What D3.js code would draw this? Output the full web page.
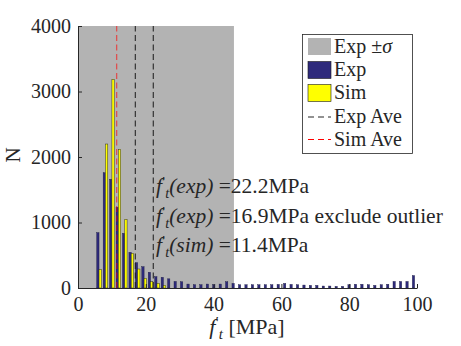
<!DOCTYPE html>
<html><head><meta charset="utf-8">
<script src="https://cdn.jsdelivr.net/npm/d3@7"></script>
<style>
body{margin:0;background:#fff;}
svg text{font-family:"Liberation Serif","Times New Roman",serif !important;fill:#262626;}
</style></head>
<body><svg id="c" width="461" height="346"></svg>
<script>
// ---- data ----
const binCenters = [6.2, 8.1, 10.0, 11.9, 13.8, 15.7, 17.6, 19.5, 21.4, 23.3,
  25.2, 27.1, 29.0, 30.9, 32.8, 34.7, 36.6, 38.5, 40.4, 42.3,
  44.2, 46.1, 48.0, 49.9, 51.8, 53.7, 55.6, 57.5, 59.4, 61.3,
  63.2, 65.1, 67.0, 68.9, 70.8, 72.7, 74.6, 76.5, 78.4, 80.3,
  82.2, 84.1, 86.0, 87.9, 89.8, 91.7, 93.6, 95.5, 97.4, 99.3];
const expCounts = [845, 1760, 1660, 1232, 835, 545, 387, 325, 240, 173,
  163, 140, 100, 95, 60, 50, 50, 60, 50, 60,
  95, 70, 50, 50, 50, 50, 50, 50, 55, 70,
  55, 50, 45, 40, 40, 30, 30, 25, 25, 50,
  57, 57, 50, 40, 50, 57, 100, 100, 100, 190];
const simCounts = [285, 2198, 3186, 2117, 1049, 530, 290, 148, 96, 72,
  40, 0, 0, 0, 0, 0, 0, 0, 0, 0,
  0, 0, 0, 0, 0, 0, 0, 0, 0, 0,
  0, 0, 0, 0, 0, 0, 0, 0, 0, 0,
  0, 0, 0, 0, 0, 0, 0, 0, 0, 0];
const expBand = [0, 46];          // Exp ± sigma (clipped at 0)
const expAve = [22.2, 16.9];      // with / without outlier
const simAve = [11.4];
const xTicks = [0, 20, 40, 60, 80, 100];
const yTicks = [0, 1000, 2000, 3000, 4000];
const annotations = [
  {who: "exp", val: "22.2MPa", extra: ""},
  {who: "exp", val: "16.9MPa", extra: " exclude outlier"},
  {who: "sim", val: "11.4MPa", extra: ""}
];
const legendItems = [
  {label: "Exp ±", sigma: true, type: "patch", color: "#b3b3b3"},
  {label: "Exp", type: "patch", color: "#2e2a7c"},
  {label: "Sim", type: "patch", color: "#ffff00"},
  {label: "Exp Ave", type: "line", color: "#262626"},
  {label: "Sim Ave", type: "line", color: "#ff0000"}
];

// ---- layout ----
const FONT = "'Liberation Serif', 'Times New Roman', serif";
const svg = d3.select("#c");
const x = d3.scaleLinear().domain([0, 100]).range([78, 417]);
const y = d3.scaleLinear().domain([0, 4000]).range([288, 26]);
const bw = 0.68; // bar width in MPa

// band
svg.append("rect")
  .attr("x", x(expBand[0])).attr("y", y(4000))
  .attr("width", x(expBand[1]) - x(expBand[0]))
  .attr("height", y(0) - y(4000))
  .attr("fill", "#b3b3b3");

// bars
const g = svg.append("g");
g.selectAll(".exp").data(binCenters).join("rect")
  .attr("x", (d) => x(d - bw))
  .attr("width", x(bw) - x(0))
  .attr("y", (d, i) => y(expCounts[i]))
  .attr("height", (d, i) => y(0) - y(expCounts[i]))
  .attr("fill", "#2e2a7c").attr("stroke", "#1a1a40").attr("stroke-width", 0.4);
g.selectAll(".sim").data(binCenters.filter((d, i) => simCounts[i] > 0)).join("rect")
  .attr("x", (d) => x(d))
  .attr("width", x(bw) - x(0))
  .attr("y", (d, i) => y(simCounts[i]))
  .attr("height", (d, i) => y(0) - y(simCounts[i]))
  .attr("fill", "#ffff00").attr("stroke", "#333322").attr("stroke-width", 0.5);

// average lines
expAve.forEach(v => {
  svg.append("line").attr("x1", x(v)).attr("x2", x(v))
    .attr("y1", y(0)).attr("y2", y(4000))
    .attr("stroke", "#1a1a1a").attr("stroke-width", 1)
    .attr("stroke-dasharray", "6,3.5");
});
simAve.forEach(v => {
  svg.append("line").attr("x1", x(v)).attr("x2", x(v))
    .attr("y1", y(0)).attr("y2", y(4000))
    .attr("stroke", "#ff0000").attr("stroke-opacity", 0.55).attr("stroke-width", 1.3)
    .attr("stroke-dasharray", "6,3.5");
});

// axes
const xa = svg.append("g").attr("transform", `translate(0,${y(0)})`)
  .call(d3.axisBottom(x).tickValues(xTicks).tickFormat(d3.format("d")).tickSizeInner(-4).tickSizeOuter(0).tickPadding(9));
const ya = svg.append("g").attr("transform", `translate(${x(0)},0)`)
  .call(d3.axisLeft(y).tickValues(yTicks).tickFormat(d3.format("d")).tickSizeInner(-4).tickSizeOuter(0).tickPadding(7));
[xa, ya].forEach(a => {
  a.attr("font-family", null).attr("font-size", null);
  a.select(".domain").attr("stroke", "#262626");
  a.selectAll(".tick line").attr("stroke", "#262626");
  a.selectAll("text").style("font-size", "20px").style("font-family", FONT).attr("fill", "#262626");
});

// math label helper: f'_t (prime then subscript t, no overlapping glyphs)
function fPrimeT(t, big, small) {
  t.append("tspan").attr("font-style", "italic").text("f");
  t.append("tspan").attr("dy", -0.3 * big).style("font-size", small + "px").text("′");
  t.append("tspan").attr("dy", 0.54 * big).style("font-size", small + "px").attr("font-style", "italic").text("t");
  return t;
}

// axis labels
const xl = svg.append("text").attr("x", 247).attr("y", 334).attr("text-anchor", "middle")
  .style("font-size", "22px").style("font-family", FONT);
fPrimeT(xl, 22, 15);
xl.append("tspan").attr("dy", -0.24 * 22).text("  [MPa]");

svg.append("text").attr("transform", "translate(20,155) rotate(-90)")
  .attr("text-anchor", "middle").style("font-size", "21px").style("font-family", FONT).text("N");

// annotations
const annY = [193, 223, 252];
annotations.forEach((a, i) => {
  const t = svg.append("text").attr("x", 156).attr("y", annY[i])
    .style("font-size", "21.5px").style("font-family", FONT);
  fPrimeT(t, 21.5, 14.5);
  t.append("tspan").attr("dy", -0.24 * 21.5).attr("font-style", "italic").text("(" + a.who + ")");
  t.append("tspan").text(" =" + a.val + a.extra);
});

// legend
const lg = svg.append("g");
lg.append("rect").attr("x", 302.5).attr("y", 34.5).attr("width", 110).attr("height", 119)
  .attr("fill", "#fff").attr("stroke", "#262626").attr("stroke-width", 0.8);
const rowY = [46.5, 70, 93, 117, 139.5];
legendItems.forEach((it, i) => {
  const cy = rowY[i];
  if (it.type === "patch") {
    lg.append("rect").attr("x", 308).attr("y", cy - 8.5).attr("width", 23).attr("height", 17)
      .attr("fill", it.color)
      .attr("stroke", i === 0 ? "none" : "#1a1a1a").attr("stroke-width", 0.6);
  } else {
    lg.append("line").attr("x1", 308).attr("x2", 331).attr("y1", cy).attr("y2", cy)
      .attr("stroke", it.color).attr("stroke-width", 1.2).attr("stroke-dasharray", "6,4");
  }
  const t = lg.append("text").attr("x", 334).attr("y", cy + 6)
    .style("font-size", "20px").style("font-family", FONT).text(it.label);
  if (it.sigma) t.append("tspan").attr("font-style", "italic").text("σ");
});
</script></body></html>
